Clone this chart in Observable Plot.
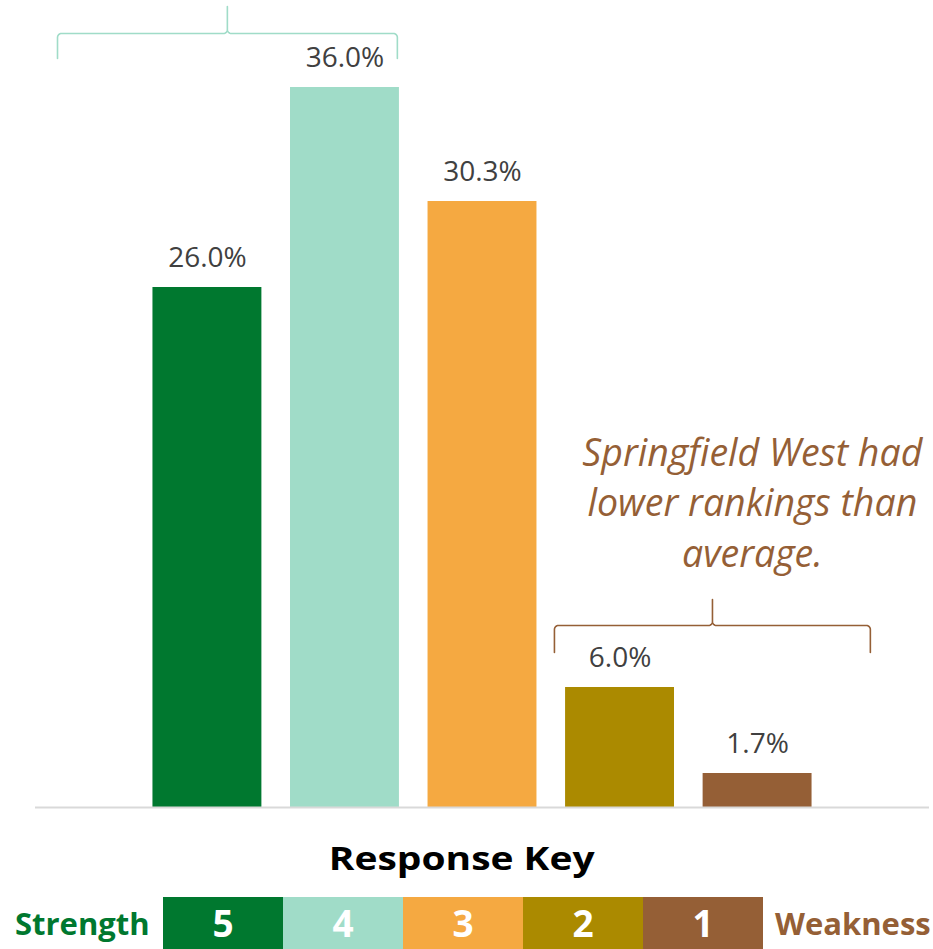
<!DOCTYPE html>
<html>
<head>
<meta charset="utf-8">
<script src="https://cdn.jsdelivr.net/npm/d3@7"></script>
<script src="https://cdn.jsdelivr.net/npm/@observablehq/plot@0.6"></script>
<style>
  html, body { margin: 0; padding: 0; background: #fff; overflow: hidden; }
  body { width: 933px; height: 949px; position: relative; font-family: "Open Sans", sans-serif; }
  #chart svg { display: block; }
  .abs { position: absolute; white-space: nowrap; }
  .key-title { left: 0; width: 923px; text-align: center; top: 838px; font-size: 33px; line-height: 40px; font-weight: 700; color: #000; }
  .key-title span { display: inline-block; transform: scaleX(1.18); }
  .side { top: 903px; font-size: 31px; line-height: 40px; font-weight: 700; }
  .box { top: 897px; width: 120px; height: 60px; line-height: 51px; text-align: center; color: #fff; font-weight: 700; font-size: 37px; }
</style>
</head>
<body>
<div id="chart"></div>
<script>
// ---- data ----
const ratings = [5, 4, 3, 2, 1];
const shares = [26.0, 36.0, 30.3, 6.0, 1.7];
const colors = ["#00782F", "#A0DCC8", "#F5A941", "#AB8A00", "#955F36"];
const valueLabels = ["26.0%", "36.0%", "30.3%", "6.0%", "1.7%"];
const keyTitle = "Response Key";
const keyLeft = "Strength";
const keyRight = "Weakness";
const note = "Springfield West had\nlower rankings than\naverage.";

// bracket annotations (x in category-position units, y in percent)
const brackets = [
  {x1: -0.09, x2: 2.381, xm: 1.145, level: 38.7, foot: 37.45, tip: 40.05, color: "#A0DCC8"},
  {x1: 3.523, x2: 5.82, xm: 4.672, level: 9.1, foot: 7.75, tip: 10.4, color: "#955F36"}
];

const table = ratings.map((r, i) => ({rating: r, pos: i + 1, value: shares[i], color: colors[i], label: valueLabels[i]}));

// ---- geometry ----
const W = 933, H = 830;
const mL = 35, mR = 4, mT = 0, mB = 23;
const xDom = [-0.25, 6.25], yDom = [0, 40.35];
const pxX = (W - mL - mR) / (xDom[1] - xDom[0]);
const pxY = (H - mT - mB) / (yDom[1] - yDom[0]);

function bracketPath(b) {
  const r = 4, rx = r / pxX, ry = r / pxY, pts = [];
  const arc = (cx, cy, a0, a1) => {
    for (let k = 0; k <= 8; k++) {
      const a = (a0 + (a1 - a0) * k / 8) * Math.PI / 180;
      pts.push({x: cx + rx * Math.cos(a), y: cy + ry * Math.sin(a), id: b.color});
    }
  };
  pts.push({x: b.x1, y: b.foot, id: b.color});
  arc(b.x1 + rx, b.level - ry, 180, 90);
  arc(b.xm - rx, b.level + ry, -90, 0);
  pts.push({x: b.xm, y: b.tip, id: b.color});
  arc(b.xm + rx, b.level + ry, 180, 270);
  arc(b.x2 - rx, b.level - ry, 90, 0);
  pts.push({x: b.x2, y: b.foot, id: b.color});
  return pts;
}

const chart = Plot.plot({
  width: W, height: H,
  marginLeft: mL, marginRight: mR, marginTop: mT, marginBottom: mB,
  x: {type: "linear", domain: xDom, axis: null},
  y: {domain: yDom, axis: null},
  style: {fontFamily: "'Open Sans', sans-serif", background: "#fff"},
  marks: [
    Plot.rectY(table, {x1: d => d.pos - 0.396, x2: d => d.pos + 0.396, y1: 0, y2: "value", fill: d => d.color}),
    Plot.ruleY([0], {stroke: "#D9D9D9", strokeWidth: 2}),
    Plot.text(table, {x: "pos", y: "value", text: "label", dy: -29, fontSize: 28, fill: "#404040", textAnchor: "middle"}),
    ...brackets.map(b => Plot.line(bracketPath(b), {x: "x", y: "y", stroke: b.color, strokeWidth: 1.6, curve: "linear"})),
    Plot.text([note], {x: 4.962, y: 18.85, text: d => d, fontSize: 37.5, fontStyle: "italic", fill: "#955F36", lineAnchor: "top", lineHeight: 1.34, textAnchor: "middle"})
  ]
});
document.getElementById("chart").appendChild(chart);

// ---- legend (HTML) ----
const body = document.body;
const t = document.createElement("div");
t.className = "abs key-title";
t.innerHTML = `<span>${keyTitle}</span>`;
body.appendChild(t);

const sl = document.createElement("div");
sl.className = "abs side";
sl.style.left = "15px"; sl.style.color = colors[0];
sl.textContent = keyLeft;
body.appendChild(sl);

ratings.forEach((r, i) => {
  const b = document.createElement("div");
  b.className = "abs box";
  b.style.left = (163 + i * 120) + "px";
  b.style.background = colors[i];
  b.textContent = r;
  body.appendChild(b);
});

const sr = document.createElement("div");
sr.className = "abs side";
sr.style.left = "775px"; sr.style.color = colors[4];
sr.textContent = keyRight;
body.appendChild(sr);
</script>
</body>
</html>
